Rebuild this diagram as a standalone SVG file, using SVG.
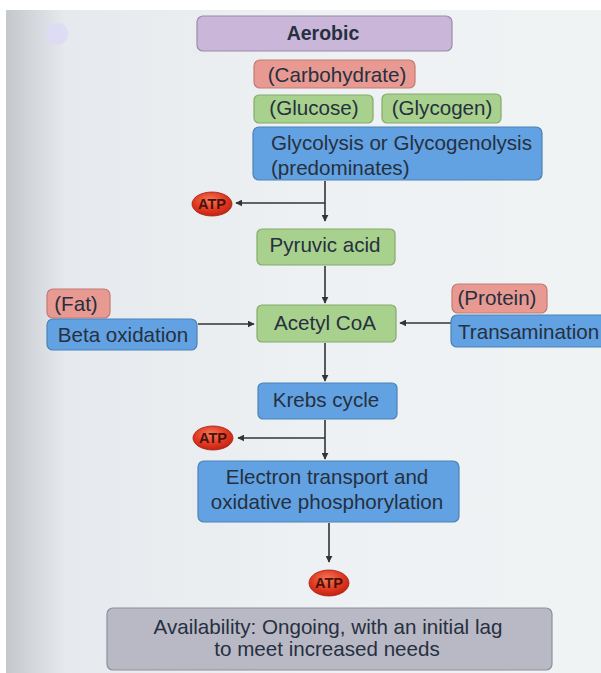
<svg xmlns="http://www.w3.org/2000/svg" width="601" height="673" viewBox="0 0 601 673">
<defs>
<linearGradient id="page" x1="0" y1="0" x2="1" y2="0">
<stop offset="0" stop-color="#c4c7cc"/>
<stop offset="0.1" stop-color="#e6e9ed"/>
<stop offset="0.5" stop-color="#eef1f3"/>
<stop offset="1" stop-color="#f0f3f4"/>
</linearGradient>
<radialGradient id="atpg" cx="0.45" cy="0.35" r="0.7">
<stop offset="0" stop-color="#f4795c"/>
<stop offset="0.6" stop-color="#e0361f"/>
<stop offset="1" stop-color="#b82012"/>
</radialGradient>
<marker id="ah" viewBox="0 0 10 10" refX="9" refY="5" markerWidth="7" markerHeight="7" orient="auto" markerUnits="userSpaceOnUse">
<path d="M0,0 L10,5 L0,10 z" fill="#333"/>
</marker>
<style>
.t{font-family:"Liberation Sans",Arial,sans-serif;font-size:20.6px;text-anchor:middle;fill:#26303f}
.l{text-anchor:start}
.b{font-weight:bold;font-size:19.5px}
.box{stroke-width:1.2;}
.pur{fill:#c9b6d8;stroke:#9c8aa9}
.red{fill:#e89a92;stroke:#c27a72}
.grn{fill:#a9d18e;stroke:#85a96d}
.blu{fill:#62a2e2;stroke:#4a82ba}
.gry{fill:#b9b8c5;stroke:#8f8e9c}
.atp{fill:url(#atpg);stroke:#a61c10;stroke-width:0.8}
.at{font-family:"Liberation Sans",Arial,sans-serif;font-size:14.5px;font-weight:bold;text-anchor:middle;fill:#4a1208}
.c{stroke:#333;stroke-width:1.6;fill:none}
</style>
</defs>
<rect width="601" height="673" fill="#ffffff"/>
<rect x="6" y="10" width="595" height="663" fill="url(#page)"/>
<circle cx="57" cy="34" r="11" fill="#dcdaf6" opacity="0.8"/>

<g id="connectors">
<path class="c" d="M325,181 V221" marker-end="url(#ah)"/>
<path class="c" d="M325,203 H236" marker-end="url(#ah)"/>
<path class="c" d="M325,266 V303" marker-end="url(#ah)"/>
<path class="c" d="M198,324 H254" marker-end="url(#ah)"/>
<path class="c" d="M451,323 H400" marker-end="url(#ah)"/>
<path class="c" d="M325,343 V381" marker-end="url(#ah)"/>
<path class="c" d="M325,420 V459" marker-end="url(#ah)"/>
<path class="c" d="M325,438 H238" marker-end="url(#ah)"/>
<path class="c" d="M329,523 V562" marker-end="url(#ah)"/>
</g>

<g id="aerobic"><rect class="box pur" x="197" y="16" width="255" height="35" rx="6"/><text class="t b" x="323" y="40">Aerobic</text></g>
<g id="carbohydrate"><rect class="box red" x="254" y="60" width="161" height="28" rx="6"/><text class="t" x="337" y="82">(Carbohydrate)</text></g>
<g id="glucose"><rect class="box grn" x="254" y="95" width="119" height="28" rx="5"/><text class="t" x="314" y="115">(Glucose)</text></g>
<g id="glycogen"><rect class="box grn" x="382" y="94" width="119" height="29" rx="5"/><text class="t" x="442" y="115">(Glycogen)</text></g>
<g id="glycolysis"><rect class="box blu" x="253" y="127" width="289" height="53" rx="6"/><text class="t l" x="271" y="150">Glycolysis or Glycogenolysis</text><text class="t l" x="271" y="175">(predominates)</text></g>
<g id="atp1"><ellipse class="atp" cx="212" cy="204" rx="20" ry="12"/><text class="at" x="212" y="209">ATP</text></g>
<g id="pyruvic"><rect class="box grn" x="257" y="229" width="138" height="36" rx="5"/><text class="t" x="325" y="252">Pyruvic acid</text></g>
<g id="acetyl"><rect class="box grn" x="257" y="305" width="139" height="37" rx="5"/><text class="t" x="325" y="330">Acetyl CoA</text></g>
<g id="fat"><rect class="box red" x="47" y="289" width="63" height="29" rx="6"/><text class="t" x="76" y="311">(Fat)</text></g>
<g id="beta"><rect class="box blu" x="47" y="319" width="150" height="31" rx="6"/><text class="t" x="123" y="342">Beta oxidation</text></g>
<g id="protein"><rect class="box red" x="452" y="284" width="95" height="29" rx="6"/><text class="t" x="497" y="305">(Protein)</text></g>
<g id="transamination"><rect class="box blu" x="451" y="315" width="160" height="32" rx="6"/><text class="t l" x="458" y="339">Transamination</text></g>
<g id="krebs"><rect class="box blu" x="258" y="383" width="139" height="36" rx="5"/><text class="t" x="326" y="407">Krebs cycle</text></g>
<g id="atp2"><ellipse class="atp" cx="213" cy="438" rx="20" ry="12"/><text class="at" x="213" y="443">ATP</text></g>
<g id="electron"><rect class="box blu" x="198" y="461" width="261" height="61" rx="6"/><text class="t" x="327" y="484">Electron transport and</text><text class="t" x="327" y="509">oxidative phosphorylation</text></g>
<g id="atp3"><ellipse class="atp" cx="329" cy="583" rx="20" ry="13"/><text class="at" x="329" y="588">ATP</text></g>
<g id="availability"><rect class="box gry" x="107" y="608" width="445" height="62" rx="6"/><text class="t" x="328" y="634">Availability: Ongoing, with an initial lag</text><text class="t" x="327" y="656">to meet increased needs</text></g>
</svg>
